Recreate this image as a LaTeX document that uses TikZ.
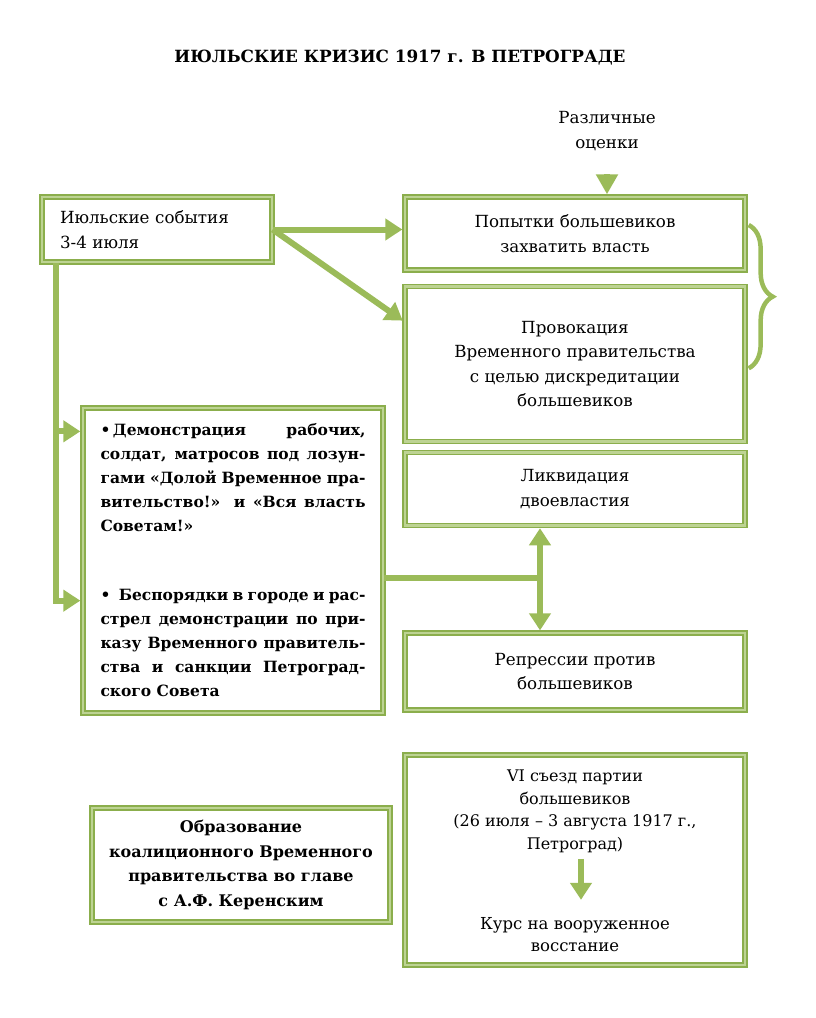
\documentclass[tikz,border=0pt]{standalone}
\usepackage{fontspec}
\setmainfont{DejaVu Serif}
\usetikzlibrary{arrows.meta,positioning,decorations.pathreplacing}
\definecolor{grn}{HTML}{9BBB59}
\definecolor{grnedge}{HTML}{8BAE4C}
\definecolor{grnlight}{HTML}{BDD393}

\begin{document}
\begin{tikzpicture}[x=1pt,y=1pt,
	txt/.style={align=center, font=\fontsize{16.7}{24.5}\selectfont},
	box/.style={txt, draw=grnedge, double=grnlight, double distance=2.6pt, line width=1.3pt, inner sep=0pt, minimum width=340pt},
	link/.style={draw=grn, line width=6pt},
	arr/.style={link, shorten >=2pt, -{Triangle[width=21pt,length=17pt]}}]
	\useasboundingbox (0,0) rectangle (816,-1018);

	\node[txt, font=\bfseries\fontsize{16.8}{22}\selectfont] (title) at (400,-58) {ИЮЛЬСКИЕ КРИЗИС 1917 г. В ПЕТРОГРАДЕ};
	\node[txt] (otsenki) at (607,-131) {Различные\\оценки};

	\node[box, minimum width=230pt, minimum height=65pt, text width=194pt, align=left] (july) at (157,-229.5) {Июльские события\\3-4 июля};
	\node[box, minimum height=73pt] (popytki) at (575,-233.5) {Попытки большевиков\\захватить власть};
	\node[box, minimum height=155pt, below=15pt of popytki] (provok) {Провокация\\Временного правительства\\с целью дискредитации\\большевиков};
	\node[box, minimum height=73pt, below=10pt of provok] (likvid) {Ликвидация\\двоевластия};
	\node[box, minimum height=77pt] (repress) at (575,-671.5) {Репрессии против\\большевиков};

	\node[box, minimum width=300pt, minimum height=305pt, text width=265pt, align=justify, font=\bfseries\fontsize{15.5}{24}\selectfont] (demo) at (233,-560.5)
		{\textbullet\,Демонстрация рабочих,\linebreak солдат, матросов под лозун-\linebreak гами «Долой Временное пра-\linebreak вительство!» и «Вся власть\linebreak Советам!»\par\vspace{45pt}
		\textbullet\ \ Беспорядки в городе и рас-\linebreak стрел демонстрации по при-\linebreak казу Временного правитель-\linebreak ства и санкции Петроград-\linebreak ского Совета};

	\node[box, minimum width=298pt, minimum height=114pt, font=\bfseries\fontsize{16}{24.5}\selectfont] (obraz) at (241,-865) {Образование\\коалиционного Временного\\правительства во главе\\с А.Ф. Керенским};
	\node[box, minimum height=210pt] (sezd) at (575,-860) {};
	\node[txt, font=\fontsize{16}{22.5}\selectfont, below=12pt of sezd.north] (sezdtxt) {VI съезд партии\\большевиков\\(26 июля – 3 августа 1917 г.,\\Петроград)};
	\node[txt, font=\fontsize{16.5}{22.5}\selectfont, above=10pt of sezd.south] (kurs) {Курс на вооруженное\\восстание};

	\coordinate (trunk) at ([xshift=15pt]july.south west);
	\coordinate (d1) at ([yshift=-24pt]demo.north west);
	\coordinate (d2) at ([yshift=113pt]demo.south west);
	\coordinate (jn) at (540,-578);
	\coordinate (otsarr) at ([yshift=22pt]otsenki |- popytki.north);

	\draw[arr, -{Triangle[width=21pt,length=20pt]}] (otsarr) -- (otsenki |- popytki.north);
	\draw[arr] (july.east) -- (july.east -| popytki.west);
	\draw[arr] (july.east) -- ([yshift=42pt]provok.west);
	\draw[arr] (trunk) |- (d2);
	\draw[arr] (trunk |- d1) -- (d1);
	\draw[link] (demo.east |- jn) -- (jn);
	\draw[arr] (jn) -- (jn |- likvid.south);
	\draw[arr] (jn) -- (jn |- repress.north);
	\draw[arr, shorten <=3pt, shorten >=14pt] ([xshift=6pt]sezdtxt.south) -- ([xshift=6pt]kurs.north);
	\draw[link, line width=4.5pt, decorate, decoration={brace, amplitude=24pt}] ([xshift=3pt,yshift=8.5pt]popytki.east) -- ([xshift=3pt,yshift=-4.5pt]provok.east);
\end{tikzpicture}
\end{document}
